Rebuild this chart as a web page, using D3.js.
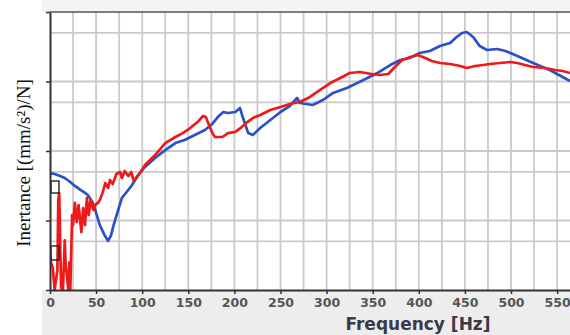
<!DOCTYPE html>
<html><head><meta charset="utf-8">
<script src="https://cdn.jsdelivr.net/npm/d3@7"></script>
<style>body{margin:0;background:#fff}svg{display:block}</style>
</head><body>
<svg id="c" width="570" height="335"></svg>
<script>
const blueFreq = [0,5,11,16,22,27,33,38,41,46,49,54,59,63,66,69,74,78,84,89,95,103,114,125,136,146,157,168,176,182,188,193,201,206,209,215,220,228,239,250,260,268,271,285,296,307,322,340,355,369,380,390,401,412,423,434,441,447,452,459,466,474,485,494,507,524,542,556,564];
const blueVal = [48.2,46.7,43.7,40.9,35.8,31.4,27.5,24.9,23.3,18.5,14.2,8.6,6.2,5.1,6.0,8.6,14.2,21.1,26.6,32.4,43.7,58.9,79.3,103,130,144,170,200,245,308,364,352,364,416,308,181,170,214,279,364,444,579,491,459,542,684,806,1052,1324,1726,2038,2178,2570,2748,3243,3581,4368,4985,5154,4368,3243,2840,2937,2748,2328,1845,1462,1161,1017];
const redFreq = [0,1,3,5,8,9,10,11,12,14,16,17,20,21,22,24,25,27,29,31,34,36,38,40,42,44,47,49,52,54,57,60,63,65,68,72,76,78,81,85,88,91,95,99,103,114,125,136,144,152,160,166,169,172,176,179,187,193,201,208,214,220,228,239,250,260,271,282,293,304,315,325,336,349,358,367,374,382,391,399,407,414,423,434,445,452,461,470,477,488,499,507,515,524,537,548,556,564];
const redVal = [3.2,2.5,2.1,1.0,1.9,19.7,24.9,5.2,1.07,1.0,5.2,2.3,1.0,2.5,1.0,12.0,8.6,17.9,9.5,16.7,6.8,15.1,8.6,21.1,12.0,19.7,14.2,16.7,17.9,19.7,24.9,34.7,29.4,38.3,33.5,46.7,49.9,40.9,51.6,43.7,49.9,37.0,43.7,51.6,62.9,87.5,130,159,181,214,261,319,308,245,181,159,159,181,188,221,261,298,330,389,430,475,507,599,755,951,1122,1324,1371,1282,1241,1282,1618,2038,2253,2404,2178,1972,1845,1786,1671,1563,1671,1726,1786,1845,1910,1845,1726,1618,1563,1462,1416,1324];
const xTickValues = [0,50,100,150,200,250,300,350,400,450,500,550];
const xGridValues = [25,50,75,100,125,150,175,200,225,250,275,300,325,350,375,400,425,450,475,500,525,550];
const yMajor = [1,10,100,1000,10000];
const yMinor = [5,50,500,5000];
const xLabel = "Frequency [Hz]";
const yLabel = "Inertance [(mm/s\u00B2)/N]";

const svg = d3.select("#c");
const L = 50, R = 570, T = 12, B = 290;
const x = d3.scaleLinear().domain([0, 564]).range([L, R]);
const y = d3.scaleLog().domain([1, 10000]).range([B, T]);

// backgrounds
svg.append("rect").attr("x", 42).attr("y", 0).attr("width", 528).attr("height", 12).attr("fill", "#f4f4f4");
svg.append("rect").attr("x", 42).attr("y", B).attr("width", 528).attr("height", 335 - B).attr("fill", "#ededed");
svg.append("rect").attr("x", L).attr("y", T).attr("width", R - L).attr("height", B - T).attr("fill", "#fff");

// grid
const grid = svg.append("g").attr("stroke", "#cacaca").attr("stroke-width", 1.8);
grid.selectAll("line.v").data(xGridValues).join("line")
  .attr("x1", d => x(d)).attr("x2", d => x(d)).attr("y1", T).attr("y2", B);
grid.selectAll("line.h").data(yMajor.concat(yMinor).filter(d => d > 1 && d < 10000)).join("line")
  .attr("x1", L).attr("x2", R).attr("y1", d => y(d)).attr("y2", d => y(d));

// lines
const clip = svg.append("clipPath").attr("id", "pc").append("rect")
  .attr("x", L).attr("y", T).attr("width", R - L).attr("height", B - T);
const line = d3.line().x(d => x(d[0])).y(d => y(d[1]));
const blue = blueFreq.map((f, i) => [f, blueVal[i]]);
const red = redFreq.map((f, i) => [f, redVal[i]]);
const lg = svg.append("g").attr("clip-path", "url(#pc)");
lg.append("path").datum(blue).attr("d", line).attr("fill", "none")
  .attr("stroke", "#2b50c8").attr("stroke-width", 2.7).attr("stroke-linejoin", "round");
lg.append("path").datum(red).attr("d", line).attr("fill", "none")
  .attr("stroke", "#ee1a1a").attr("stroke-width", 2.7).attr("stroke-linejoin", "round");

// marker boxes
svg.append("rect").attr("x", x(0) + 1).attr("y", 181).attr("width", 8).attr("height", 12)
  .attr("fill", "none").attr("stroke", "#222").attr("stroke-width", 1.4);
svg.append("rect").attr("x", x(0) + 1).attr("y", 246).attr("width", 8).attr("height", 14)
  .attr("fill", "none").attr("stroke", "#222").attr("stroke-width", 1.4);

// top border
svg.append("line").attr("x1", L).attr("x2", R).attr("y1", T).attr("y2", T)
  .attr("stroke", "#555").attr("stroke-width", 1.5);

// axes
const xa = svg.append("g").attr("transform", `translate(0,${B})`)
  .call(d3.axisBottom(x).tickValues(xTickValues).tickSize(4).tickPadding(4).tickSizeOuter(0));
xa.select(".domain").attr("stroke", "#333").attr("stroke-width", 2);
xa.selectAll(".tick line").attr("stroke", "#333").attr("stroke-width", 1.5);
xa.selectAll(".tick text").attr("font-family", "DejaVu Sans, Verdana, sans-serif")
  .attr("font-weight", "bold").attr("font-size", 12.5).attr("fill", "#555");

const ya = svg.append("g").attr("transform", `translate(${L},0)`)
  .call(d3.axisLeft(y).tickValues(yMajor).tickSize(4).tickFormat("").tickSizeOuter(0));
ya.select(".domain").attr("stroke", "#333").attr("stroke-width", 2);
ya.selectAll(".tick line").attr("stroke", "#333").attr("stroke-width", 1.5);

// labels
svg.append("text").attr("x", 418).attr("y", 330).attr("text-anchor", "middle")
  .attr("font-family", "DejaVu Sans, Verdana, sans-serif").attr("font-weight", "bold")
  .attr("font-size", 17).attr("fill", "#3a3a48").text(xLabel);
svg.append("text").attr("transform", "translate(30,163) rotate(-90)").attr("text-anchor", "middle")
  .attr("font-family", "Liberation Serif, Times New Roman, serif")
  .attr("font-size", 19).attr("fill", "#111").text(yLabel);
</script>
</body></html>
